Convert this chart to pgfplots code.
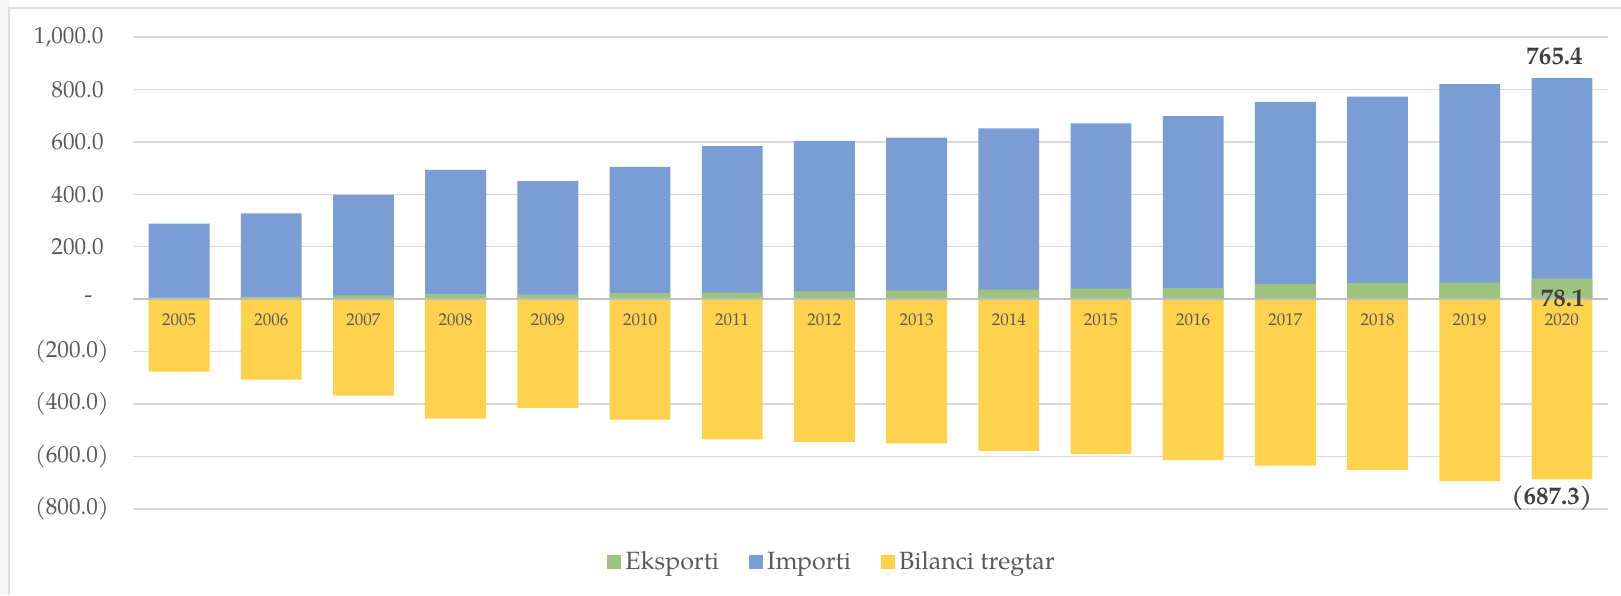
\documentclass[border=0pt]{standalone}
\usepackage{fontspec}
\setmainfont{texgyrepagella}[Extension=.otf, UprightFont=*-regular, BoldFont=*-bold, ItalicFont=*-italic, BoldItalicFont=*-bolditalic]
\usepackage{pgfplots}
\pgfplotsset{compat=1.18}
\usepackage{pgfplotstable}

\definecolor{cE}{HTML}{9CC47E}
\definecolor{cI}{HTML}{7B9DD6}
\definecolor{cB}{HTML}{FFD24D}
\definecolor{ctxt}{HTML}{595959}
\definecolor{cdark}{HTML}{404040}
\definecolor{cgrid}{HTML}{D9D9D9}
\definecolor{czero}{HTML}{BFBFBF}

\pgfplotstableread{
x year E I
0 2005 6 282
1 2006 10 317
2 2007 15 383
3 2008 19 474
4 2009 18 432
5 2010 23 482
6 2011 25 559
7 2012 30 574
8 2013 33 583
9 2014 37 615
10 2015 40 631
11 2016 42 656
12 2017 59 694
13 2018 61 712
14 2019 63 757
15 2020 78.1 765.4
}\datatable

\begin{document}
\begin{tikzpicture}
\path[use as bounding box] (0,0) rectangle (810.5pt,297.5pt);
\fill[gray!7] (0,0) rectangle (4.5pt,297.5pt);
\draw[gray!25, line width=0.8pt] (4.5pt,0) -- (4.5pt,293.5pt) -- (810.5pt,293.5pt);
\begin{axis}[
  at={(66.5pt,43pt)}, anchor=south west,
  width=737.5pt, height=236pt, scale only axis,
  xmin=-0.5, xmax=15.5, ymin=-800, ymax=1000,
  axis line style={draw=none},
  xtick=\empty,
  ytick={-800,-600,...,1000},
  yticklabels={(800.0),(600.0),(400.0),(200.0),{\makebox[12pt][l]{-}},{200.0\makebox[2.5pt]{}},{400.0\makebox[2.5pt]{}},{600.0\makebox[2.5pt]{}},{800.0\makebox[2.5pt]{}},{1,000.0\makebox[2.5pt]{}}},
  ytick style={draw=none},
  yticklabel style={anchor=east, inner sep=0pt, xshift=-12pt, font=\fontsize{11.6}{13}\selectfont, text=ctxt},
  ymajorgrids, grid style={cgrid, line width=0.65pt},
  ybar, bar width=0.66, bar shift=0pt,
  legend image code/.code={\fill[#1] (0pt,-3.5pt) rectangle (7pt,3.5pt);},
  legend style={at={(0.4746,-0.112)}, anchor=center, legend columns=3, draw=none, fill=none,
    font=\fontsize{12.5}{14}\selectfont, text=ctxt,
    /tikz/every even column/.append style={column sep=13pt}},
]
\addlegendimage{fill=cE, draw=none}\addlegendentry{Eksporti}
\addlegendimage{fill=cI, draw=none}\addlegendentry{Importi}
\addlegendimage{fill=cB, draw=none}\addlegendentry{Bilanci tregtar}
\addplot[fill=cI, draw=none, forget plot] table[x=x, y expr=\thisrow{E}+\thisrow{I}] {\datatable};
\addplot[fill=cE, draw=none, forget plot] table[x=x, y=E] {\datatable};
\addplot[fill=cB, draw=none, forget plot] table[x=x, y expr=\thisrow{E}-\thisrow{I}] {\datatable};
\draw[czero, line width=0.8pt] (axis cs:-0.5,0) -- (axis cs:15.5,0);
\pgfplotsinvokeforeach{0,...,15}{
  \node[font=\fontsize{8.5}{10}\selectfont, text=ctxt] at (axis cs:#1,-80) {\the\numexpr2005+#1\relax};
}
\node[font=\bfseries\fontsize{12.5}{14}\selectfont, text=cdark] at (axis cs:14.92,927) {765.4};
\node[font=\bfseries\fontsize{12.5}{14}\selectfont, text=cdark] at (axis cs:15.01,4) {78.1};
\node[font=\bfseries\fontsize{12.5}{14}\selectfont, text=cdark] at (axis cs:14.89,-760) {(687.3)};
\end{axis}
\end{tikzpicture}
\end{document}
